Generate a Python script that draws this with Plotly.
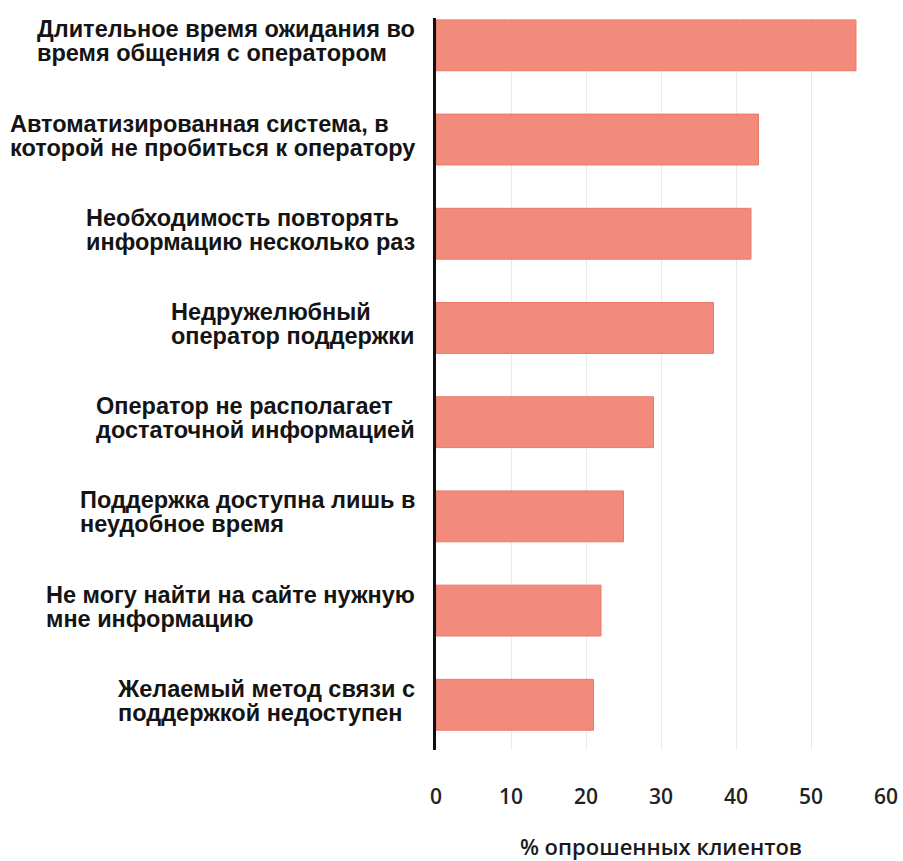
import plotly.graph_objects as go

categories = [
    ["Длительное время ожидания во", "время общения с оператором"],
    ["Автоматизированная система, в", "которой не пробиться к оператору"],
    ["Необходимость повторять", "информацию несколько раз"],
    ["Недружелюбный", "оператор поддержки"],
    ["Оператор не располагает", "достаточной информацией"],
    ["Поддержка доступна лишь в", "неудобное время"],
    ["Не могу найти на сайте нужную", "мне информацию"],
    ["Желаемый метод связи с", "поддержкой недоступен"],
]
values = [56, 43, 42, 37, 29, 25, 22, 21]
x_ticks = [0, 10, 20, 30, 40, 50, 60]
x_title = "% опрошенных клиентов"

positions = list(range(len(categories)))

fig = go.Figure()
fig.add_trace(go.Bar(
    x=values,
    y=positions,
    orientation="h",
    width=0.54,
    marker=dict(color="#F28B7B", line=dict(color="#E97A6B", width=1)),
    hovertext=[" ".join(c) for c in categories],
    hoverinfo="text+x",
))

for pos, lines in zip(positions, categories):
    text = "<br>".join(f"<span style='font-size:23.5px'>{ln}</span>" for ln in lines)
    fig.add_annotation(
        x=-0.042, xref="paper", y=pos, yref="y",
        text=text, showarrow=False, yshift=4,
        xanchor="right", yanchor="middle", align="left",
        font=dict(family="Liberation Sans, Arial, sans-serif", size=18.5,
                  color="#141414", weight="bold"),
    )

fig.update_layout(
    width=903, height=861,
    margin=dict(l=436, r=17, t=18, b=111),
    plot_bgcolor="white", paper_bgcolor="white",
    showlegend=False,
    xaxis=dict(
        range=[0, 60], tickvals=x_ticks, ticktext=[str(v) for v in x_ticks],
        showgrid=True, gridcolor="#E6ECEE", gridwidth=1,
        zeroline=False, showline=False, ticks="",
        ticklabelstandoff=32,
        tickfont=dict(family="Open Sans, sans-serif", size=21, color="#222222", weight=600),
        title=dict(text=x_title, standoff=30,
                   font=dict(family="Open Sans, sans-serif", size=22, color="#1a1a1a", weight=600)),
        automargin=False,
    ),
    yaxis=dict(
        range=[7.48, -0.29], showticklabels=False, showgrid=False,
        zeroline=False, showline=True, linecolor="#111111", linewidth=2.5,
        ticks="", automargin=False,
    ),
)

fig.write_html("out.html")
